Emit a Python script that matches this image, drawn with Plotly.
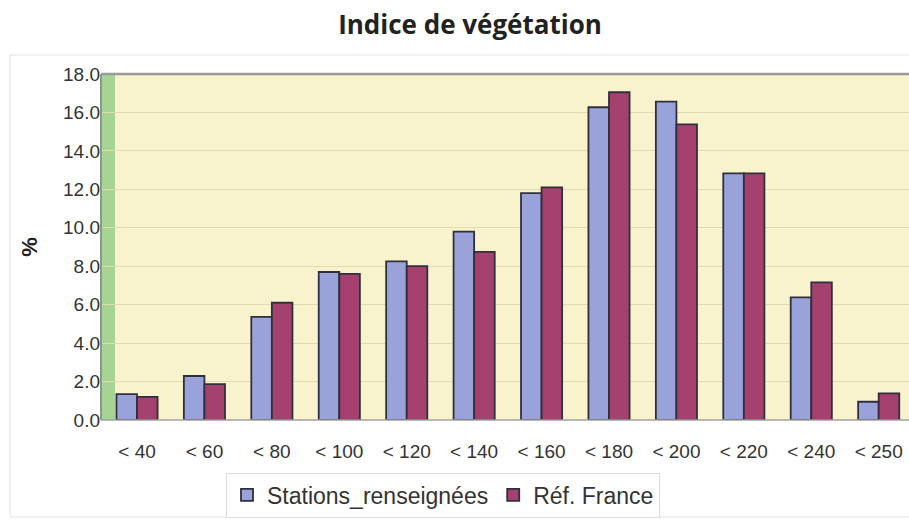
import plotly.graph_objects as go

categories = ["< 40", "< 60", "< 80", "< 100", "< 120", "< 140", "< 160",
              "< 180", "< 200", "< 220", "< 240", "< 250"]
stations = [1.35, 2.29, 5.37, 7.7, 8.25, 9.8, 11.8, 16.27, 16.56, 12.83, 6.38, 0.95]
ref_france = [1.2, 1.87, 6.1, 7.6, 8.0, 8.75, 12.1, 17.05, 15.38, 12.83, 7.16, 1.39]
y_ticks = [0, 2, 4, 6, 8, 10, 12, 14, 16, 18]

W, H = 909, 521
L, R, T, B = 101, 0, 74, 101
pw, ph = W - L - R, H - T - B

def px_x(x):
    return (x - L) / pw

def px_y(y):
    return (H - B - y) / ph

xs = list(range(len(categories)))
fig = go.Figure()
fig.add_trace(go.Bar(x=xs, y=stations, name="Stations_renseignées",
                     marker=dict(color="#99a3d9", line=dict(color="#30303c", width=1.8))))
fig.add_trace(go.Bar(x=xs, y=ref_france, name="Réf. France",
                     marker=dict(color="#a4416f", line=dict(color="#30303c", width=1.8))))

spacing = 67.43
x0 = -0.5 - (103.3 - L) / spacing
x1 = 11 + (W - R - 878.7) / spacing

shapes = [
    dict(type="rect", xref="x", yref="paper", x0=x0, x1=-0.5 + (115 - 103.3) / spacing,
         y0=0, y1=1, fillcolor="#a9d394", line=dict(width=0), layer="below"),
    dict(type="line", xref="paper", yref="paper", x0=0, x1=0, y0=0, y1=1,
         line=dict(color="#8a9a88", width=2)),
    dict(type="line", xref="paper", yref="paper", x0=0, x1=1, y0=1, y1=1,
         line=dict(color="#9a9a9a", width=2.5)),
    dict(type="line", xref="paper", yref="paper", x0=0, x1=1, y0=0, y1=0,
         line=dict(color="#a0a0a0", width=1.5)),
    dict(type="rect", xref="paper", yref="paper", x0=px_x(10), x1=px_x(915),
         y0=px_y(517), y1=px_y(55), line=dict(color="#e2e2e2", width=1),
         fillcolor="rgba(0,0,0,0)", layer="below"),
]

fig.update_layout(
    width=W, height=H,
    margin=dict(l=L, r=R, t=T, b=B),
    paper_bgcolor="white",
    plot_bgcolor="#f8f2cd",
    barmode="group",
    bargap=0.39,
    bargroupgap=0,
    title=dict(text="<b>Indice de végétation</b>", x=px_x(470), xref="paper",
               xanchor="center", y=1 - 25 / H, yanchor="middle",
               font=dict(family="Open Sans, Noto Sans, sans-serif", size=26, color="#222")),
    font=dict(family="Liberation Sans, Arial, sans-serif", size=19, color="#333"),
    xaxis=dict(range=[x0, x1], tickmode="array", tickvals=xs, ticktext=categories,
               showgrid=False, zeroline=False, showline=False,
               ticks="", ticklabelstandoff=18,
               tickfont=dict(size=19, color="#333")),
    yaxis=dict(range=[0, 18], tickvals=y_ticks, tickformat=".1f",
               showgrid=True, gridcolor="#e2dbb0", gridwidth=1,
               zeroline=False, showline=False, ticks="",
               tickfont=dict(size=19, color="#333")),
    legend=dict(orientation="h", x=px_x(443), xanchor="center",
                y=px_y(495), yanchor="middle",
                bordercolor="#dcdcdc", borderwidth=1, bgcolor="white",
                font=dict(size=23, color="#333"), itemwidth=30,
                traceorder="normal"),
    shapes=shapes,
)
fig.update_yaxes(title=dict(text="<b>%</b>", standoff=19, font=dict(size=22, color="#222")))

fig.write_html("out.html", config={"displayModeBar": False},
               post_script="document.body.style.margin='0';")
